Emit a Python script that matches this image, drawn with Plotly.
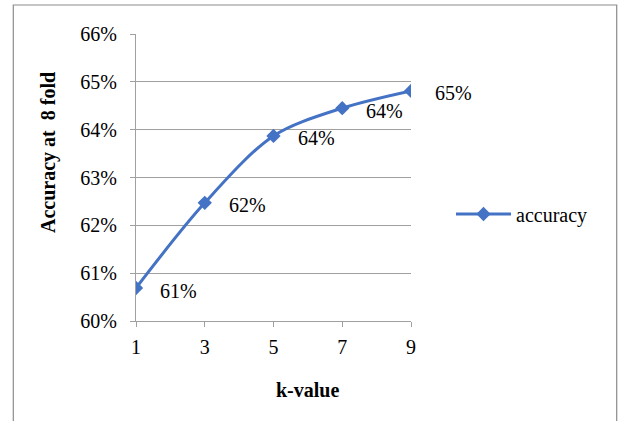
import plotly.graph_objects as go

k_values = [1, 3, 5, 7, 9]
accuracy = [0.6069, 0.6247, 0.6387, 0.6445, 0.6481]
y_ticks = [0.60, 0.61, 0.62, 0.63, 0.64, 0.65, 0.66]
x_title = "k-value"
y_title = "Accuracy at\u00a0 8 fold"
series_name = "accuracy"

W, H = 618, 421
L, R, T, B = 136, 207, 34, 100
pw, ph = W - L - R, H - T - B

def px_x(p):
    return (p - L) / pw

def px_y(p):
    return (H - B - p) / ph

BLUE = "#4472C4"
GRID = "#a0a0a0"
FONT = "Liberation Serif"

fig = go.Figure()
fig.add_trace(go.Scatter(
    x=k_values, y=accuracy, name=series_name, mode="lines+markers",
    line=dict(color=BLUE, width=3, shape="spline", smoothing=0.9),
    marker=dict(symbol="diamond", size=11, color=BLUE),
    hoverinfo="skip",
))

for xv, yv in zip(k_values, accuracy):
    fig.add_annotation(
        x=xv, y=yv, xref="x", yref="y", text=f"{yv:.0%}", showarrow=False,
        xanchor="left", yanchor="middle", xshift=22, yshift=-2.5,
        font=dict(family=FONT, size=20, color="black"),
    )

fig.add_annotation(
    x=px_x(48), y=px_y(153), xref="paper", yref="paper", text=f"<b>{y_title}</b>",
    textangle=-90, showarrow=False, xanchor="center", yanchor="middle",
    font=dict(family=FONT, size=20, color="black"),
)
fig.add_annotation(
    x=px_x(307.5), y=px_y(390), xref="paper", yref="paper", text=f"<b>{x_title}</b>",
    showarrow=False, xanchor="center", yanchor="middle",
    font=dict(family=FONT, size=20, color="black"),
)

fig.add_shape(
    type="rect", xref="paper", yref="paper",
    x0=px_x(13.3), x1=px_x(616.7), y0=px_y(440), y1=px_y(5),
    line=dict(color="#8c8c8c", width=1.2), layer="below",
)

fig.update_layout(
    width=W, height=H,
    margin=dict(l=L, r=R, t=T, b=B, pad=0),
    paper_bgcolor="white", plot_bgcolor="white",
    font=dict(family=FONT, size=20, color="black"),
    showlegend=True,
    legend=dict(
        x=px_x(451), y=px_y(214), xanchor="left", yanchor="middle",
        bgcolor="rgba(0,0,0,0)", font=dict(family=FONT, size=20, color="black"),
        itemwidth=55,
    ),
    xaxis=dict(
        range=[1, 9], tickvals=k_values, ticktext=[str(k) for k in k_values],
        showgrid=False, zeroline=False,
        showline=True, linecolor=GRID, linewidth=1,
        ticks="outside", ticklen=5, tickcolor=GRID, tickwidth=1,
        ticklabelstandoff=3,
        tickfont=dict(family=FONT, size=20, color="black"),
    ),
    yaxis=dict(
        range=[0.60, 0.66], tickvals=y_ticks, tickformat=".0%",
        showgrid=True, gridcolor=GRID, gridwidth=1, zeroline=False,
        showline=True, linecolor=GRID, linewidth=1,
        ticks="outside", ticklen=5, tickcolor=GRID, tickwidth=1,
        ticklabelstandoff=9,
        tickfont=dict(family=FONT, size=20, color="black"),
    ),
)

fig.write_html("out.html", config={"displayModeBar": False},
               post_script="document.body.style.margin='0';")
